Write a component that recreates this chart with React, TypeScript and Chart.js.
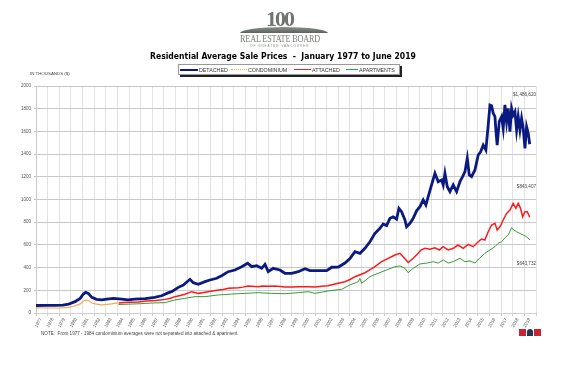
import React, { useEffect, useRef } from "react";
import { Chart, registerables } from "chart.js";

Chart.register(...registerables);

const yearTicks: number[] = [1977, 2020];
const yTickStep = 200;

const detached: [number, number][] = [
  [1977.0, 66], [1978.0, 67], [1978.6, 68], [1979.3, 70], [1979.8, 77], [1980.35, 100], [1980.8, 129],
  [1981.07, 167], [1981.27, 182], [1981.5, 173], [1981.8, 138], [1982.2, 120], [1982.65, 115], [1983.1, 123],
  [1983.65, 129], [1984.37, 123], [1984.9, 115], [1985.5, 123], [1986.4, 126], [1987.2, 138], [1987.8, 152],
  [1988.4, 179], [1988.67, 188], [1989.24, 226], [1989.67, 247], [1990.24, 297], [1990.53, 267], [1990.96, 253],
  [1991.53, 276], [1991.96, 291], [1992.54, 306], [1993.0, 330], [1993.53, 364], [1994.11, 379], [1994.69, 408],
  [1995.2, 438], [1995.55, 408], [1995.98, 417], [1996.41, 394], [1996.69, 429], [1996.97, 364], [1997.4, 394],
  [1997.98, 379], [1998.41, 350], [1998.99, 350], [1999.55, 364], [2000.13, 390], [2000.56, 373], [2001.14, 373],
  [2002.0, 373], [2002.43, 403], [2003.0, 405], [2003.57, 440], [2004.0, 480], [2004.43, 540], [2004.86, 526],
  [2005.29, 570], [2005.72, 628], [2006.15, 702], [2006.58, 746], [2006.86, 784], [2007.15, 770], [2007.44, 834],
  [2007.72, 848], [2008.01, 827], [2008.21, 922], [2008.44, 892], [2008.73, 819], [2008.87, 760], [2009.16, 790],
  [2009.44, 834], [2009.73, 900], [2010.02, 937], [2010.3, 996], [2010.53, 951], [2010.73, 1025], [2011.02, 1128],
  [2011.31, 1231], [2011.59, 1157], [2011.88, 1172], [2012.02, 1128], [2012.17, 1231], [2012.37, 1113], [2012.6, 1069],
  [2012.88, 1128], [2013.17, 1069], [2013.46, 1157], [2013.69, 1201], [2013.89, 1245], [2014.09, 1363], [2014.26, 1216],
  [2014.46, 1201], [2014.75, 1260], [2015.03, 1392], [2015.24, 1421], [2015.46, 1480], [2015.69, 1436], [2015.89, 1656],
  [2016.04, 1833], [2016.18, 1827], [2016.32, 1759], [2016.47, 1730], [2016.55, 1612], [2016.66, 1480], [2016.84, 1686],
  [2017.04, 1730], [2017.18, 1627], [2017.33, 1833], [2017.47, 1686], [2017.61, 1803], [2017.76, 1597], [2017.9, 1803],
  [2018.04, 1744], [2018.19, 1774], [2018.33, 1612], [2018.47, 1730], [2018.62, 1612], [2018.76, 1715], [2018.9, 1627],
  [2019.05, 1451], [2019.19, 1641], [2019.33, 1583], [2019.46, 1487],
];

const condominium: [number, number][] = [
  [1977.0, 45], [1978.0, 44], [1979.0, 44], [1979.8, 50], [1980.3, 62], [1980.8, 80], [1981.1, 105],
  [1981.3, 115], [1981.55, 108], [1981.8, 88], [1982.2, 78], [1982.65, 72], [1983.1, 76], [1983.5, 80], [1984.05, 90],
];

const attached: [number, number][] = [
  [1984.1, 88], [1984.6, 92], [1985.2, 95], [1985.8, 98], [1986.5, 105], [1987.3, 110], [1988.1, 120], [1988.5, 128],
  [1988.95, 144], [1989.4, 155], [1989.8, 165], [1990.39, 188], [1990.96, 173], [1991.4, 180], [1991.8, 188],
  [1992.68, 203], [1993.1, 208], [1993.53, 217], [1994.4, 222], [1994.8, 228], [1995.25, 238], [1996.1, 232],
  [1996.5, 238], [1996.97, 235], [1997.55, 238], [1998.41, 229], [1999.0, 228], [1999.55, 232], [2000.41, 232],
  [2001.0, 230], [2001.57, 235], [2002.1, 240], [2002.71, 256], [2003.57, 276], [2004.0, 295], [2004.43, 320],
  [2005.29, 355], [2005.7, 380], [2006.15, 408], [2006.72, 452], [2007.29, 482], [2007.87, 511], [2008.3, 526],
  [2008.58, 496], [2009.01, 445], [2009.44, 482], [2009.87, 526], [2010.1, 555], [2010.45, 570], [2010.9, 562],
  [2011.3, 575], [2011.7, 555], [2012.0, 584], [2012.45, 555], [2012.88, 570], [2013.3, 599], [2013.74, 570],
  [2014.17, 605], [2014.6, 584], [2015.03, 628], [2015.32, 652], [2015.6, 643], [2015.89, 716], [2016.18, 775],
  [2016.47, 790], [2016.66, 731], [2016.9, 760], [2017.18, 819], [2017.47, 878], [2017.76, 907], [2018.04, 966],
  [2018.27, 922], [2018.47, 966], [2018.67, 922], [2018.85, 848], [2019.05, 892], [2019.25, 892], [2019.46, 843],
];

const apartments: [number, number][] = [
  [1984.1, 75], [1985.0, 78], [1986.0, 82], [1987.0, 88], [1988.1, 91], [1988.95, 115], [1989.8, 129],
  [1990.67, 144], [1991.53, 144], [1992.68, 159], [1993.83, 167], [1994.97, 173], [1996.1, 179], [1997.27, 173],
  [1998.41, 170], [1999.55, 179], [2000.41, 188], [2000.99, 173], [2002.13, 194], [2003.29, 209], [2004.0, 247],
  [2004.71, 276], [2004.86, 305], [2005.0, 261], [2005.72, 320], [2006.43, 350], [2007.15, 379], [2007.87, 408],
  [2008.3, 415], [2008.73, 394], [2009.01, 355], [2009.44, 394], [2010.02, 432], [2010.6, 440], [2011.16, 452],
  [2011.59, 440], [2012.02, 467], [2012.45, 440], [2012.88, 452], [2013.46, 482], [2013.89, 452], [2014.32, 458],
  [2014.75, 440], [2015.18, 487], [2015.6, 526], [2016.04, 555], [2016.47, 584], [2016.75, 614], [2017.04, 628],
  [2017.33, 663], [2017.61, 687], [2017.9, 752], [2018.1, 731], [2018.33, 716], [2018.62, 701], [2018.9, 687],
  [2019.19, 672], [2019.46, 644],
];

const seriesNames = ["DETACHED", "CONDOMINIUM", "ATTACHED", "APARTMENTS"];
const seriesColors = ["#0b1a80", "#f2a94e", "#ff1a1a", "#3a9a3a"];

const endLabels: [string, number][] = [
  ["$1,486,620", 1927],
  ["$843,407", 1113],
  ["$643,732", 432],
];

const FONT = '"Liberation Sans", Arial, sans-serif';

const toPts = (arr: [number, number][]) => arr.map(([x, y]) => ({ x, y }));

const endLabelPlugin = {
  id: "endLabels",
  afterDraw(chart: any) {
    const { ctx, chartArea, scales } = chart;
    ctx.save();
    ctx.font = `4.6px ${FONT}`;
    ctx.fillStyle = "#444";
    ctx.textAlign = "right";
    ctx.textBaseline = "middle";
    endLabels.forEach(([t, v]) => {
      ctx.fillText(t, chartArea.right, scales.y.getPixelForValue(v));
    });
    ctx.restore();
  },
};

export default function App() {
  const ref = useRef<HTMLCanvasElement | null>(null);
  useEffect(() => {
    if (!ref.current) return;
    const widths = [2.8, 1.2, 1.5, 1];
    const data = [detached, condominium, attached, apartments];
    const chart = new Chart(ref.current, {
      type: "line",
      data: {
        datasets: data.map((d, i) => ({
          label: seriesNames[i],
          data: toPts(d),
          borderColor: seriesColors[i],
          backgroundColor: seriesColors[i],
          borderWidth: widths[i],
          pointRadius: 0,
          tension: 0,
          fill: false,
          order: 4 - i,
        })),
      },
      options: {
        animation: false,
        responsive: false,
        maintainAspectRatio: false,
        layout: { padding: { left: 0, right: 30, top: 86, bottom: 0 } },
        plugins: { legend: { display: false }, title: { display: false }, tooltip: { enabled: false } },
        scales: {
          x: {
            type: "linear",
            min: yearTicks[0],
            max: yearTicks[1],
            afterFit: (s: any) => { s.height = 64; },
            grid: { color: "#e2e2e2", lineWidth: 1, drawTicks: true, tickLength: 3, tickColor: "#cfcfcf" },
            border: { color: "#d0d0d0" },
            ticks: {
              stepSize: 1,
              autoSkip: false,
              maxRotation: 60,
              minRotation: 60,
              labelOffset: 5,
              padding: 1,
              color: "#555",
              font: { size: 4.5, family: FONT },
              callback: (v: any) => (Number(v) < yearTicks[1] ? String(v) : ""),
            },
          },
          y: {
            min: 0,
            max: 2000,
            afterFit: (s: any) => { s.width = 36; },
            grid: { color: "#c8c8c8", lineWidth: 1, tickLength: 2 },
            border: { color: "#c8c8c8" },
            ticks: {
              stepSize: yTickStep,
              color: "#555",
              padding: 3,
              font: { size: 4.5, family: FONT },
              callback: (v: any) => String(v),
            },
          },
        },
      },
      plugins: [endLabelPlugin],
    });
    return () => chart.destroy();
  }, []);

  const abs = (s: React.CSSProperties): React.CSSProperties => ({ position: "absolute", whiteSpace: "nowrap", ...s });

  return (
    <div style={{ position: "fixed", left: 0, top: 0, width: 566, height: 377, background: "#fff", overflow: "hidden", fontFamily: FONT }}>
      <canvas ref={ref} width={566} height={377} style={{ position: "absolute", left: 0, top: 0, width: 566, height: 377 }} />
      {/* logo */}
      <div style={abs({ left: 266, top: 6, fontFamily: '"Liberation Serif", serif', fontSize: 22, fontWeight: 700, color: "#6f766f", letterSpacing: -2 })}>100</div>
      <div style={abs({ left: 240, top: 27, width: 88, height: 6, background: "linear-gradient(#8a918a,#5c635c)", borderRadius: "50% 50% 0 0 / 100% 100% 0 0" })} />
      <div style={abs({ left: 240, top: 33, fontFamily: '"Liberation Serif", serif', fontSize: 10, color: "#7a7f7a", transform: "scaleX(0.82)", transformOrigin: "left top", letterSpacing: -0.2 })}>REAL ESTATE BOARD</div>
      <div style={abs({ left: 250, top: 44, fontSize: 3.2, color: "#8a8a8a", letterSpacing: 0.9 })}>OF GREATER VANCOUVER</div>
      {/* title */}
      <div style={abs({ left: 150, top: 51, fontSize: 8.2, fontWeight: 700, color: "#000", fontFamily: '"DejaVu Sans", Verdana, sans-serif', transform: "scaleX(0.94)", transformOrigin: "left top" })}>
        Residential Average Sale Prices&nbsp;&nbsp;-&nbsp;&nbsp;January 1977 to June 2019
      </div>
      {/* legend */}
      <div style={abs({ left: 178, top: 64, width: 220, height: 9, border: "1px solid #999", boxShadow: "2px 2px 0 #222", background: "#fff" })}>
        {seriesNames.map((n, i) => {
          const lefts = [1, 52, 115, 167];
          const lens = [18, 16, 17, 12];
          return (
            <div key={n} style={abs({ left: lefts[i], top: 0, height: 9, display: "flex", alignItems: "center" })}>
              <div style={{ width: lens[i], height: 0, borderTop: i === 1 ? `1px dotted ${seriesColors[i]}` : `${i === 0 ? 2 : 1.5}px solid ${seriesColors[i]}` }} />
              <span style={{ fontSize: 5.3, color: "#333", marginLeft: 1 }}>{n}</span>
            </div>
          );
        })}
      </div>
      {/* axis title */}
      <div style={abs({ left: 30, top: 71, fontSize: 4.4, color: "#444" })}>IN THOUSANDS ($)</div>
      {/* note */}
      <div style={abs({ left: 41, top: 331, fontSize: 4.6, color: "#444" })}>
        NOTE:&nbsp; From 1977 - 1984 condominium averages were not separated into attached &amp; apartment.
      </div>
      {/* small logos */}
      <div style={abs({ left: 519, top: 329, width: 7, height: 7, background: "#c8262e" })} />
      <div style={abs({ left: 527, top: 329, width: 6, height: 7, background: "#2a3550", borderRadius: "3px 3px 0 0" })} />
      <div style={abs({ left: 534, top: 329, width: 7, height: 7, background: "#c8262e" })} />
    </div>
  );
}
